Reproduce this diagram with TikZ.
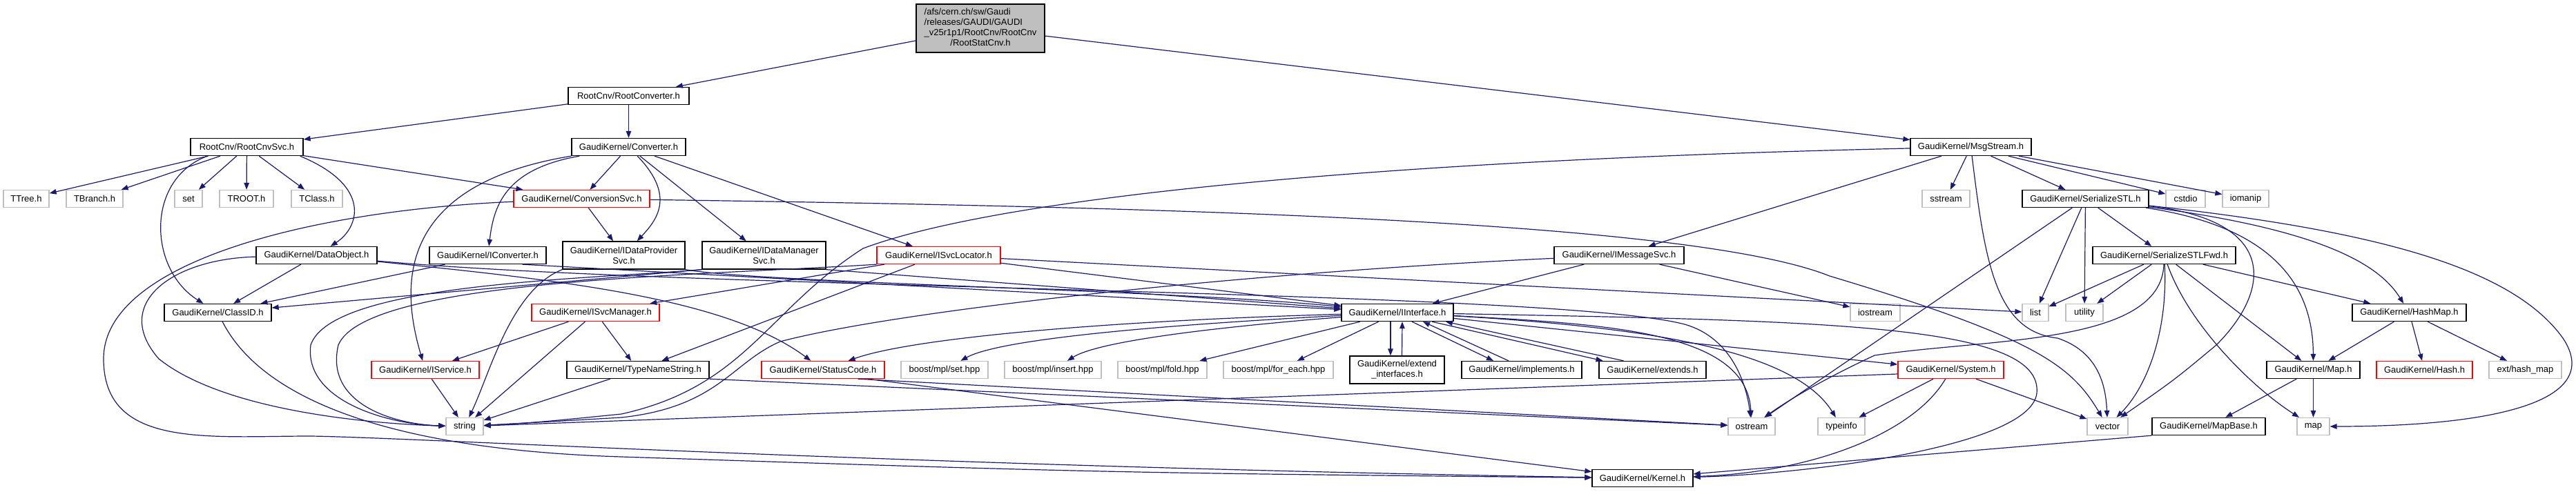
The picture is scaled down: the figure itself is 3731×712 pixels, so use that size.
\documentclass[tikz,border=0pt]{standalone}
\usepackage{fontspec}
\setmainfont{Liberation Sans}
\usetikzlibrary{arrows.meta}
\definecolor{edgec}{HTML}{191970}
\definecolor{grayb}{HTML}{BFBFBF}
\newcommand\dxfont{\fontsize{13}{15}\selectfont}
\begin{document}
\begin{tikzpicture}[x=1pt,y=-1pt,
  nb/.style={draw=black,line width=1.3pt,fill=white,minimum height=25pt,inner sep=0pt,font=\dxfont,align=center},
  ng/.style={nb,draw=grayb},
  nr/.style={nb,draw=red},
  e/.style={draw=edgec,line width=1.2pt,-{Triangle[length=10pt,width=7.5pt]}}]
\fill[white] (0,0) rectangle (3731,712);
\useasboundingbox (0,0) rectangle (3731,712);
% ---------- nodes ----------
\node[nb,fill=grayb,minimum width=186pt,minimum height=70pt] (top) at (1420,41)
  {\begin{tabular}{@{}l@{}}/afs/cern.ch/sw/Gaudi\\/releases/GAUDI/GAUDI\\\_v25r1p1/RootCnv/RootCnv\\\multicolumn{1}{@{}c@{}}{/RootStatCnv.h}\end{tabular}};
\node[nb,minimum width=175pt] (RC) at (910.5,139) {RootCnv/RootConverter.h};
\node[nb,minimum width=163pt] (RCS) at (357.5,213) {RootCnv/RootCnvSvc.h};
\node[nb,minimum width=165pt] (CV) at (910.5,213) {GaudiKernel/Converter.h};
\node[nb,minimum width=175pt] (MS) at (2854.5,213) {GaudiKernel/MsgStream.h};
\node[ng,minimum width=66pt] (TTree) at (38,288) {TTree.h};
\node[ng,minimum width=82pt] (TBranch) at (137,288) {TBranch.h};
\node[ng,minimum width=40pt] (set) at (273,288) {set};
\node[ng,minimum width=78pt] (TROOT) at (357,288) {TROOT.h};
\node[ng,minimum width=74pt] (TClass) at (459,288) {TClass.h};
\node[nr,minimum width=197pt] (CS) at (842.5,288) {GaudiKernel/ConversionSvc.h};
\node[ng,minimum width=69pt] (sstream) at (2818.5,288) {sstream};
\node[nb,minimum width=183pt] (SS) at (3020.5,288) {GaudiKernel/SerializeSTL.h};
\node[ng,minimum width=57pt] (cstdio) at (3165.5,288) {cstdio};
\node[ng,minimum width=67pt] (iomanip) at (3252.5,288) {iomanip};
\node[nb,minimum width=175pt] (DO) at (458.5,370) {GaudiKernel/DataObject.h};
\node[nb,minimum width=169pt] (IC) at (706.5,370) {GaudiKernel/IConverter.h};
\node[nb,minimum width=177pt,minimum height=40pt] (IDP) at (903.5,370) {GaudiKernel/IDataProvider\\Svc.h};
\node[nb,minimum width=179pt,minimum height=40pt] (IDM) at (1106.5,370) {GaudiKernel/IDataManager\\Svc.h};
\node[nr,minimum width=179pt] (ISL) at (1359.5,370) {GaudiKernel/ISvcLocator.h};
\node[nb,minimum width=188pt] (IMS) at (2345,370) {GaudiKernel/IMessageSvc.h};
\node[nb,minimum width=207pt] (SF) at (3134.5,370) {GaudiKernel/SerializeSTLFwd.h};
\node[nb,minimum width=155pt] (CID) at (315.5,453) {GaudiKernel/ClassID.h};
\node[nr,minimum width=185pt] (ISM) at (862.5,453) {GaudiKernel/ISvcManager.h};
\node[nb,minimum width=162pt] (II) at (2024,453) {GaudiKernel/IInterface.h};
\node[ng,minimum width=72pt] (iostream) at (2716,453) {iostream};
\node[ng,minimum width=38pt] (list) at (2948,453) {list};
\node[ng,minimum width=54pt] (utility) at (3019,453) {utility};
\node[nb,minimum width=165pt] (HM) at (3489.5,453) {GaudiKernel/HashMap.h};
\node[nr,minimum width=156pt] (ISV) at (616,536) {GaudiKernel/IService.h};
\node[nb,minimum width=206pt] (TNS) at (924,536) {GaudiKernel/TypeNameString.h};
\node[nr,minimum width=178pt] (SC) at (1192,536) {GaudiKernel/StatusCode.h};
\node[ng,minimum width=126pt] (bset) at (1368,536) {boost/mpl/set.hpp};
\node[ng,minimum width=140pt] (binsert) at (1525,536) {boost/mpl/insert.hpp};
\node[ng,minimum width=129pt] (bfold) at (1683.5,536) {boost/mpl/fold.hpp};
\node[ng,minimum width=159pt] (beach) at (1851.5,536) {boost/mpl/for\_each.hpp};
\node[nb,minimum width=137pt,minimum height=40pt] (EI) at (2023.5,536) {GaudiKernel/extend\\\_interfaces.h};
\node[nb,minimum width=174pt] (IMPL) at (2204,536) {GaudiKernel/implements.h};
\node[nb,minimum width=155pt] (EXT) at (2393.5,536) {GaudiKernel/extends.h};
\node[nr,minimum width=153pt] (SY) at (2825.5,536) {GaudiKernel/System.h};
\node[nb,minimum width=135pt] (MapH) at (3350.5,536) {GaudiKernel/Map.h};
\node[nr,minimum width=139pt] (Hash) at (3511.5,536) {GaudiKernel/Hash.h};
\node[ng,minimum width=105pt] (exthm) at (3657.5,536) {ext/hash\_map};
\node[ng,minimum width=54pt] (string) at (673,618) {string};
\node[ng,minimum width=68pt] (ostream) at (2537,618) {ostream};
\node[ng,minimum width=68pt] (typeinfo) at (2667,618) {typeinfo};
\node[ng,minimum width=59pt] (vector) at (3052.5,618) {vector};
\node[nb,minimum width=164pt] (MapBase) at (3199,618) {GaudiKernel/MapBase.h};
\node[ng,minimum width=47pt] (map) at (3350.5,618) {map};
\node[nb,minimum width=146pt] (Kernel) at (2379,693) {GaudiKernel/Kernel.h};
% ---------- edges ----------
\draw[e] (top) -- (RC);
\draw[e] (top) -- (MS);
\draw[e] (RC) -- (RCS);
\draw[e] (RC) -- (CV);
% RootCnvSvc
\draw[e] (RCS) -- (TTree);
\draw[e] (RCS) -- (TBranch);
\draw[e] ([xshift=25pt]RCS.south west) .. controls (210,260) and (215,390) .. (CID);
\draw[e] (RCS) -- (set);
\draw[e] (RCS) -- (TROOT);
\draw[e] (RCS) -- (TClass);
\draw[e] ([xshift=-5pt]RCS.south east) .. controls (540,270) and (520,330) .. (DO);
\draw[e] (RCS) -- (CS);
% Converter
\draw[e] (CV.south west) .. controls (560,270) and (585,430) .. (ISV);
\draw[e] ([xshift=12pt]CV.south west) .. controls (730,245) and (715,300) .. (IC);
\draw[e] (CV) -- (CS);
\draw[e] (CV) .. controls (980,285) and (950,320) .. (IDP);
\draw[e] (CV) -- (IDM);
\draw[e] (CV) -- (ISL);
% ConversionSvc
\draw[e] (CS) .. controls (450,305) and (150,380) .. (150,520) .. controls (150,650) and (300,632) .. (450,632) .. controls (600,634) and (1300,675) .. (Kernel);
\draw[e] (CS) -- (IDP);
\draw[e] (CS) .. controls (1700,300) and (2450,320) .. (2650,400) .. controls (2950,490) and (3000,530) .. (vector);
% MsgStream
\draw[e] (MS) .. controls (2000,232) and (1450,285) .. (1250,360) .. controls (1110,450) and (1080,560) .. (900,600) .. controls (780,612) .. (string);
\draw[e] (MS) -- (IMS);
\draw[e] (MS) -- (sstream);
\draw[e] (MS) .. controls (2875,380) and (2890,480) .. (2980,490) .. controls (3040,510) and (3050,560) .. (vector);
\draw[e] (MS) -- (SS);
\draw[e] (MS) -- (cstdio);
\draw[e] (MS) -- (iomanip);
% IMessageSvc
\draw[e] (IMS) -- (II);
\draw[e] (IMS) -- (iostream);
\draw[e] (IMS) .. controls (1800,395) and (1300,450) .. (1130,495) .. controls (1060,525) and (1040,590) .. (900,605) .. controls (780,612) .. (string);
% SerializeSTL
\draw[e] (SS) -- (ostream);
\draw[e] (SS) -- (list);
\draw[e] (SS) -- (utility);
\draw[e] (SS) -- (SF);
\draw[e] (SS) .. controls (3300,320) and (3290,420) .. (3210,500) .. controls (3150,550) .. (vector);
\draw[e] (SS) .. controls (3300,330) and (3350,420) .. (MapH);
\draw[e] (SS) .. controls (3380,335) and (3450,390) .. (HM);
\draw[e] (SS) .. controls (3450,335) and (3640,390) .. (3712,490) .. controls (3775,585) and (3600,618) .. (map);
% SerializeSTLFwd
\draw[e] (SF) -- (list);
\draw[e] (SF) -- (utility);
\draw[e] (SF) .. controls (3130,500) and (2880,490) .. (2715,515) .. controls (2640,550) and (2590,580) .. (ostream);
\draw[e] (SF) .. controls (3140,480) and (3110,560) .. (vector);
\draw[e] (SF) .. controls (3170,470) and (3260,560) .. (map);
\draw[e] (SF) -- (MapH);
\draw[e] (SF) -- (HM);
% HashMap, Map, MapBase
\draw[e] (HM) -- (MapH);
\draw[e] (HM) -- (Hash);
\draw[e] (HM) -- (exthm);
\draw[e] (MapH) -- (MapBase);
\draw[e] (MapH) -- (map);
\draw[e] (MapBase.south west) -- (Kernel);
% DataObject
\draw[e] (DO) -- (CID);
\draw[e] (DO) .. controls (250,375) and (160,440) .. (230,520) .. controls (330,600) and (560,615) .. (string);
\draw[e] (DO) .. controls (800,405) and (1050,430) .. (SC);
\draw[e] (DO) .. controls (1000,420) and (2250,420) .. (2440,470) .. controls (2510,490) and (2530,560) .. (ostream);
% IConverter
\draw[e] (IC) -- (CID);
\draw[e] ([xshift=-35pt]IC.south east) -- (II);
% IDataProviderSvc
\draw[e] (IDP.south west) .. controls (740,420) and (710,540) .. (string);
\draw[e] (IDP.south east) .. controls (1100,410) and (1700,420) .. (II);
% IDataManagerSvc
\draw[e] (IDM.south west) -- (CID);
\draw[e] (IDM.south west) .. controls (850,405) and (480,410) .. (450,500) .. controls (440,580) and (560,615) .. (string);
\draw[e] (IDM.south east) -- (II);
% ISvcLocator
\draw[e] (ISL) -- (list);
\draw[e] (ISL) -- (II);
\draw[e] (ISL) -- (ISM);
\draw[e] (ISL) -- (TNS);
\draw[e] (ISL.south west) .. controls (1000,400) and (530,405) .. (490,500) .. controls (470,585) and (570,615) .. (string);
% ISvcManager, IService, TypeNameString
\draw[e] (ISM) -- (ISV);
\draw[e] (ISM) -- (string);
\draw[e] (ISM) -- (TNS);
\draw[e] (ISV) -- (string);
\draw[e] (TNS) -- (string);
\draw[e] (TNS.south east) -- (ostream);
% StatusCode
\draw[e] ([xshift=-39pt]SC.south east) -- (ostream);
\draw[e] ([xshift=-25pt]SC.south east) -- (Kernel);
% IInterface
\draw[e] (II) .. controls (1600,465) and (1320,490) .. (SC);
\draw[e] (II) .. controls (1700,470) and (1450,490) .. (bset);
\draw[e] (II) .. controls (1750,475) and (1590,495) .. (binsert);
\draw[e] (II) -- (bfold);
\draw[e] (II) -- (beach);
\draw[e] ([xshift=-10pt]II.south) -- ([xshift=-9.5pt]EI.north);
\draw[e] ([xshift=7pt]EI.north) -- ([xshift=7pt]II.south);
\draw[e] ([xshift=21pt]II.south) -- ([xshift=-41pt]IMPL.north);
\draw[e] ([xshift=-19pt]IMPL.north) -- ([xshift=37pt]II.south);
\draw[e] ([xshift=50pt]II.south) -- ([xshift=-72pt]EXT.north);
\draw[e] ([xshift=-42pt]EXT.north) -- ([xshift=70pt]II.south);
\draw[e] (II) .. controls (2330,470) and (2530,480) .. (ostream);
\draw[e] (II) .. controls (2400,475) and (2600,510) .. (typeinfo);
\draw[e] (II) -- (SY);
\draw[e] (II) .. controls (2650,465) and (2960,470) .. (2950,570) .. controls (2940,650) and (2600,688) .. (Kernel);
% System
\draw[e] ([yshift=-6pt]SY.west) -- (string);
\draw[e] (SY) -- (typeinfo);
\draw[e] (SY) .. controls (2770,630) and (2620,685) .. (Kernel);
\draw[e] (SY) -- (vector);
% ClassID
\draw[e] (CID) .. controls (370,560) and (520,650) .. (900,662) .. controls (1600,685) .. (Kernel);
\end{tikzpicture}
\end{document}
